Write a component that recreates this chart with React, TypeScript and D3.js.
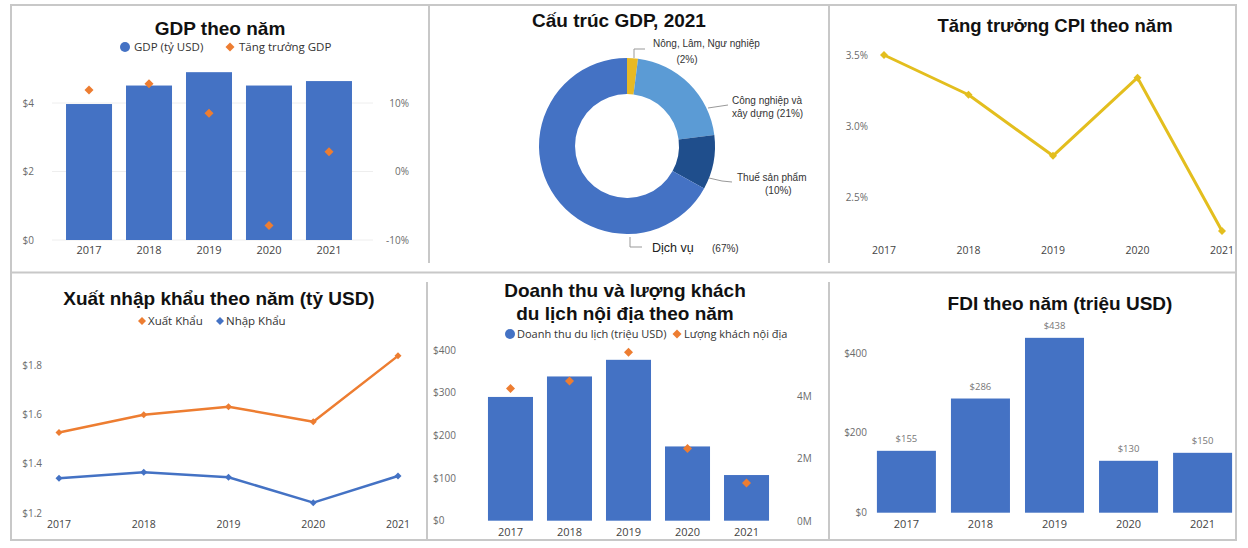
import React from "react";
import * as d3 from "d3";

const years = ["2017", "2018", "2019", "2020", "2021"];
const gdpValues = [3.97, 4.51, 4.9, 4.51, 4.64];
const gdpGrowth = [11.9, 12.8, 8.5, -7.9, 2.9];
const gdpTicks = [0, 2, 4];
const growthTicks = [-10, 0, 10];

const structureLabels = ["Nông, Lâm, Ngư nghiệp", "Công nghiệp và xây dựng", "Thuế sản phẩm", "Dịch vụ"];
const structureValues = [2, 21, 10, 67];
const structureColors = ["#E8B923", "#5B9BD5", "#1F4E8C", "#4472C4"];

const cpiValues = [3.5, 3.22, 2.79, 3.34, 2.26];
const cpiTicks = [2.5, 3.0, 3.5];

const exportValues = [1.526, 1.598, 1.631, 1.57, 1.837];
const importValues = [1.341, 1.365, 1.345, 1.242, 1.35];
const tradeTicks = [1.2, 1.4, 1.6, 1.8];

const tourismRevenue = [290, 338, 377, 174, 107];
const touristsMillions = [4.24, 4.48, 5.39, 2.33, 1.23];
const revenueTicks = [0, 100, 200, 300, 400];
const touristTicks = [0, 2, 4];

const fdiValues = [155, 286, 438, 130, 150];
const fdiTicks = [0, 200, 400];

const BLUE = "#4472C4";
const ORANGE = "#ED7D31";
const GOLD = "#E3BE1E";
const TITLE_FONT = "'Liberation Sans', Arial, sans-serif";
const UI_FONT = "'Open Sans', 'Noto Sans', sans-serif";
const TICK = "#6b6b6b";
const XLAB = "#444";

const diamond = (cx: number, cy: number, s: number) =>
  `M${cx},${cy - s}L${cx + s},${cy}L${cx},${cy + s}L${cx - s},${cy}Z`;

function Title({ x, y, text, size = 19 }: { x: number; y: number; text: string; size?: number }) {
  return (
    <text x={x} y={y} textAnchor="middle" fontFamily={TITLE_FONT} fontWeight="bold" fontSize={size} fill="#111">
      {text}
    </text>
  );
}

function GdpPanel() {
  const x = d3.scaleBand().domain(years).range([59, 359]).paddingInner(0.233).paddingOuter(0.117);
  const y = d3.scaleLinear().domain([0, 4]).range([240, 103]);
  const y2 = d3.scaleLinear().domain([-10, 10]).range([240, 103]);
  return (
    <g>
      <Title x={220} y={35} text="GDP theo năm" />
      <circle cx={125} cy={47} r={5} fill={BLUE} />
      <text x={134} y={51} fontFamily={UI_FONT} fontSize={11.5} fill="#333">GDP (tỷ USD)</text>
      <path d={diamond(230, 47, 4.5)} fill={ORANGE} />
      <text x={239} y={51} fontFamily={UI_FONT} fontSize={11.5} fill="#333">Tăng trưởng GDP</text>
      {gdpTicks.map((t) => (
        <g key={t}>
          <line x1={52} x2={373} y1={y(t)} y2={y(t)} stroke="#eeeeee" />
          <text x={34} y={y(t) + 3.5} textAnchor="end" fontFamily={UI_FONT} fontSize={10} fill={TICK}>{`$${t}`}</text>
        </g>
      ))}
      {growthTicks.map((t) => (
        <text key={t} x={409} y={y2(t) + 3.5} textAnchor="end" fontFamily={UI_FONT} fontSize={10} fill={TICK}>{`${t}%`}</text>
      ))}
      {years.map((yr, i) => (
        <rect key={yr} x={x(yr)!} width={x.bandwidth()} y={y(gdpValues[i])} height={y(0) - y(gdpValues[i])} fill={BLUE} />
      ))}
      {years.map((yr, i) => (
        <path key={yr} d={diamond(x(yr)! + x.bandwidth() / 2, y2(gdpGrowth[i]), 4.5)} fill={ORANGE} />
      ))}
      {years.map((yr) => (
        <text key={yr} x={x(yr)! + x.bandwidth() / 2} y={254} textAnchor="middle" fontFamily={UI_FONT} fontSize={11} fill={XLAB}>{yr}</text>
      ))}
    </g>
  );
}

function DonutPanel() {
  const cx = 627, cy = 146;
  const pie = d3.pie<number>().sort(null).value((d) => d);
  const arcs = pie(structureValues);
  const arc = d3.arc<d3.PieArcDatum<number>>().innerRadius(52).outerRadius(88);
  const lf = { fontFamily: TITLE_FONT, fontSize: 10, fill: "#333" } as const;
  return (
    <g>
      <Title x={619} y={27} text="Cấu trúc GDP, 2021" />
      <g transform={`translate(${cx},${cy})`}>
        {arcs.map((a, i) => (
          <path key={i} d={arc(a)!} fill={structureColors[i]} />
        ))}
      </g>
      <polyline points="634,58 634,49 645,49" fill="none" stroke="#999" />
      <polyline points="708,108 728,105" fill="none" stroke="#999" />
      <polyline points="709,178 722,181 732,182" fill="none" stroke="#999" />
      <polyline points="630,237 630,247 642,247" fill="none" stroke="#999" />
      <text x={653} y={47} {...lf}>{structureLabels[0]}</text>
      <text x={687} y={63} textAnchor="middle" {...lf}>{`(${structureValues[0]}%)`}</text>
      <text x={732} y={104} {...lf}>Công nghiệp và</text>
      <text x={732} y={117} {...lf}>{`xây dựng (${structureValues[1]}%)`}</text>
      <text x={737} y={181} {...lf}>{structureLabels[2]}</text>
      <text x={765} y={194} {...lf}>{`(${structureValues[2]}%)`}</text>
      <text x={652} y={252} fontFamily={TITLE_FONT} fontSize={12.5} fill="#222">{structureLabels[3]}</text>
      <text x={712} y={252} {...lf}>{`(${structureValues[3]}%)`}</text>
    </g>
  );
}

function CpiPanel() {
  const x = d3.scalePoint().domain(years).range([884, 1222]);
  const y = d3.scaleLinear().domain([2.5, 3.5]).range([197, 55]);
  const line = d3.line<number>().x((_, i) => x(years[i])!).y((d) => y(d));
  return (
    <g>
      <Title x={1055} y={32} text="Tăng trưởng CPI theo năm" size={18.5} />
      {cpiTicks.map((t) => (
        <text key={t} x={868} y={y(t) + 3.5} textAnchor="end" fontFamily={UI_FONT} fontSize={10} fill={TICK}>{`${t.toFixed(1)}%`}</text>
      ))}
      <path d={line(cpiValues)!} fill="none" stroke={GOLD} strokeWidth={3} strokeLinejoin="round" />
      {cpiValues.map((v, i) => (
        <path key={i} d={diamond(x(years[i])!, y(v), 4)} fill={GOLD} />
      ))}
      {years.map((yr) => (
        <text key={yr} x={x(yr)!} y={254} textAnchor="middle" fontFamily={UI_FONT} fontSize={10.5} fill={XLAB}>{yr}</text>
      ))}
    </g>
  );
}

function TradePanel() {
  const x = d3.scalePoint().domain(years).range([59, 398]);
  const y = d3.scaleLinear().domain([1.2, 1.8]).range([513, 365]);
  const line = d3.line<number>().x((_, i) => x(years[i])!).y((d) => y(d));
  return (
    <g>
      <Title x={219} y={305} text="Xuất nhập khẩu theo năm (tỷ USD)" />
      <path d={diamond(142, 321, 4)} fill={ORANGE} />
      <text x={148} y={325} fontFamily={UI_FONT} fontSize={11.5} fill="#333">Xuất Khẩu</text>
      <path d={diamond(220, 321, 4)} fill={BLUE} />
      <text x={226} y={325} fontFamily={UI_FONT} fontSize={11.5} fill="#333">Nhập Khẩu</text>
      {tradeTicks.map((t) => (
        <text key={t} x={42} y={y(t) + 3.5} textAnchor="end" fontFamily={UI_FONT} fontSize={10} fill={TICK}>{`$${t.toFixed(1)}`}</text>
      ))}
      {[
        { vals: exportValues, c: ORANGE },
        { vals: importValues, c: BLUE },
      ].map((s, k) => (
        <g key={k}>
          <path d={line(s.vals)!} fill="none" stroke={s.c} strokeWidth={2.5} strokeLinejoin="round" />
          {s.vals.map((v, i) => (
            <path key={i} d={diamond(x(years[i])!, y(v), 3.5)} fill={s.c} />
          ))}
        </g>
      ))}
      {years.map((yr) => (
        <text key={yr} x={x(yr)!} y={528} textAnchor="middle" fontFamily={UI_FONT} fontSize={10.5} fill={XLAB}>{yr}</text>
      ))}
    </g>
  );
}

function TourismPanel() {
  const x = d3.scaleBand().domain(years).range([481, 776]).paddingInner(0.237).paddingOuter(0.118);
  const y = d3.scaleLinear().domain([0, 400]).range([520.7, 350]);
  const y2 = d3.scaleLinear().domain([0, 4]).range([521.7, 396]);
  return (
    <g>
      <Title x={625} y={297} text="Doanh thu và lượng khách" />
      <Title x={625} y={320} text="du lịch nội địa theo năm" />
      <circle cx={510} cy={334} r={5} fill={BLUE} />
      <text x={517} y={338} fontFamily={UI_FONT} fontSize={11} fill="#333">Doanh thu du lịch (triệu USD)</text>
      <path d={diamond(677, 334, 4.5)} fill={ORANGE} />
      <text x={684} y={338} fontFamily={UI_FONT} fontSize={11} fill="#333">Lượng khách nội địa</text>
      {revenueTicks.map((t) => (
        <text key={t} x={433} y={y(t) + 3.5} fontFamily={UI_FONT} fontSize={10} fill={TICK}>{`$${t}`}</text>
      ))}
      {touristTicks.map((t) => (
        <text key={t} x={797} y={y2(t) + 3.5} fontFamily={UI_FONT} fontSize={10} fill={TICK}>{`${t}M`}</text>
      ))}
      {years.map((yr, i) => (
        <rect key={yr} x={x(yr)!} width={x.bandwidth()} y={y(tourismRevenue[i])} height={y(0) - y(tourismRevenue[i])} fill={BLUE} />
      ))}
      {years.map((yr, i) => (
        <path key={yr} d={diamond(x(yr)! + x.bandwidth() / 2, y2(touristsMillions[i]), 4.5)} fill={ORANGE} />
      ))}
      {years.map((yr) => (
        <text key={yr} x={x(yr)! + x.bandwidth() / 2} y={536} textAnchor="middle" fontFamily={UI_FONT} fontSize={11} fill={XLAB}>{yr}</text>
      ))}
    </g>
  );
}

function FdiPanel() {
  const x = d3.scaleBand().domain(years).range([869.5, 1239.5]).paddingInner(0.203).paddingOuter(0.1);
  const y = d3.scaleLinear().domain([0, 400]).range([512.7, 353]);
  return (
    <g>
      <Title x={1060} y={310} text="FDI theo năm (triệu USD)" />
      {fdiTicks.map((t) => (
        <text key={t} x={867} y={y(t) + 3.5} textAnchor="end" fontFamily={UI_FONT} fontSize={10} fill={TICK}>{`$${t}`}</text>
      ))}
      {years.map((yr, i) => (
        <g key={yr}>
          <rect x={x(yr)!} width={x.bandwidth()} y={y(fdiValues[i])} height={y(0) - y(fdiValues[i])} fill={BLUE} />
          <text x={x(yr)! + x.bandwidth() / 2} y={y(fdiValues[i]) - 9} textAnchor="middle" fontFamily={UI_FONT} fontSize={9.5} fill="#777">{`$${fdiValues[i]}`}</text>
          <text x={x(yr)! + x.bandwidth() / 2} y={528} textAnchor="middle" fontFamily={UI_FONT} fontSize={11} fill={XLAB}>{yr}</text>
        </g>
      ))}
    </g>
  );
}

export default function App() {
  const border = "#c8c8c8";
  return (
    <div style={{ position: "absolute", left: 0, top: 0 }}>
      <svg width={1248} height={548} style={{ display: "block", background: "#fff" }}>
        <rect x={0} y={0} width={1248} height={548} fill="#fff" />
        <rect x={11} y={5} width={1225} height={535} fill="none" stroke={border} strokeWidth={2} />
        <line x1={11} x2={1236} y1={272.5} y2={272.5} stroke={border} strokeWidth={2} />
        <line x1={429} x2={429} y1={5} y2={263} stroke={border} strokeWidth={2} />
        <line x1={829} x2={829} y1={5} y2={263} stroke={border} strokeWidth={2} />
        <line x1={427} x2={427} y1={282} y2={540} stroke={border} strokeWidth={2} />
        <line x1={829} x2={829} y1={282} y2={540} stroke={border} strokeWidth={2} />
        <GdpPanel />
        <DonutPanel />
        <CpiPanel />
        <TradePanel />
        <TourismPanel />
        <FdiPanel />
      </svg>
    </div>
  );
}
